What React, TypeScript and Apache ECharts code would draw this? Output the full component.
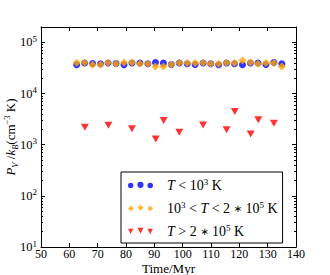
import React, { useEffect, useRef } from "react";
import * as echarts from "echarts";

// Time (Myr) of the sampled snapshots
const xCold = [62.6, 65.4, 68.2, 71.0, 73.7, 76.5, 79.3, 82.1, 84.9, 87.7, 90.4, 93.2, 96.0, 98.8, 101.6, 104.4, 107.2, 109.9, 112.7, 115.5, 118.3, 121.1, 123.9, 126.6, 129.4, 132.2, 135.0];
// T < 1e3 K
const yCold = [36600, 39400, 38800, 38200, 39400, 38800, 36600, 39400, 39400, 38200, 40600, 39400, 37100, 39400, 38200, 37100, 39400, 38200, 36600, 39400, 38200, 36600, 39400, 39400, 37100, 40600, 38200];
// 1e3 < T < 2e5 K
const yWarm = [40000, 40600, 36600, 37100, 40000, 38200, 40600, 40600, 38200, 38200, 33900, 33900, 37100, 40000, 39400, 39400, 40000, 38200, 38200, 40000, 39400, 44500, 40600, 38200, 39400, 39400, 33900];
// T > 2e5 K
const xHot = [65.5, 73.8, 82.1, 90.5, 93.3, 98.8, 107.2, 115.5, 118.4, 124.0, 126.7, 132.2];
const yHot = [2200, 2390, 2060, 1290, 2970, 1760, 2430, 1970, 4480, 1610, 3070, 2640];

const seriesNames = ["T < 10^3 K", "10^3 < T < 2*10^5 K", "T > 2*10^5 K"];
const legendRich = [
  "{i|T} < 10{sup|3} K",
  "10{sup|3} < {i|T} < 2 {ast|∗} 10{sup|5} K",
  "{i|T} > 2 {ast|∗} 10{sup|5} K",
];

const xTicks = [50, 60, 70, 80, 90, 100, 110, 120, 130, 140];
const yMajor = [10, 100, 1000, 10000, 100000];
const yMinor = [20, 30, 40, 50, 60, 70, 80, 90, 200, 300, 400, 500, 600, 700, 800, 900, 2000, 3000, 4000, 5000, 6000, 7000, 8000, 9000, 20000, 30000, 40000, 50000, 60000, 70000, 80000, 90000, 200000];

const FONT = "Liberation Serif";

function circles(): string {
  const c = (cx: number, cy: number, r: number) =>
    `M${cx - r},${cy} A${r},${r} 0 1,0 ${cx + r},${cy} A${r},${r} 0 1,0 ${cx - r},${cy} Z `;
  return "path://" + c(3, 3.2, 2.6) + c(12.5, 2.6, 3) + c(22, 3.3, 2.7);
}
function diamonds(): string {
  const d = (cx: number, cy: number, r: number) =>
    `M${cx},${cy - r} L${cx + r},${cy} L${cx},${cy + r} L${cx - r},${cy} Z `;
  return "path://" + d(3, 3.2, 2.7) + d(12.5, 2.6, 3) + d(22, 3.3, 2.7);
}
function triangles(): string {
  const t = (cx: number, cy: number, r: number) =>
    `M${cx - r},${cy - r} L${cx + r},${cy - r} L${cx},${cy + r} Z `;
  return "path://" + t(3, 3.3, 2.6) + t(12.5, 2.8, 2.9) + t(22, 3.4, 2.7);
}

export default function App() {
  const ref = useRef<HTMLDivElement>(null);
  useEffect(() => {
    if (!ref.current) return;
    const chart = echarts.init(ref.current, null, { renderer: "svg" });
    const axisLine = { show: true, lineStyle: { color: "#000", width: 1 } };
    const yBase = { type: "log" as const, logBase: 10, min: 10, max: 200000, splitLine: { show: false } };
    chart.setOption({
      animation: false,
      backgroundColor: "#fff",
      textStyle: { fontFamily: FONT },
      grid: { left: 41, right: 34, top: 27, bottom: 28, containLabel: false, outerBoundsMode: "none" },
      xAxis: [
        {
          type: "value", position: "bottom", min: 50, max: 140, interval: 10,
          axisLine, splitLine: { show: false },
          axisTick: { inside: true, length: 4, lineStyle: { color: "#000" }, customValues: xTicks },
          axisLabel: { color: "#000", fontSize: 12, lineHeight: 12, fontFamily: FONT, margin: 1, customValues: xTicks },
          name: "Time/Myr", nameLocation: "middle", nameGap: 15, nameMoveOverlap: false,
          nameTextStyle: { color: "#000", fontSize: 13, lineHeight: 13, fontFamily: FONT, fontWeight: "normal" },
        },
        {
          type: "value", position: "top", min: 50, max: 140, interval: 10,
          axisLine, splitLine: { show: false },
          axisTick: { inside: true, length: 4, lineStyle: { color: "#000" }, customValues: xTicks },
          axisLabel: { show: false },
        },
      ],
      yAxis: [
        {
          ...yBase, position: "left", axisLine,
          axisTick: { inside: true, length: 4, lineStyle: { color: "#000" }, customValues: yMajor },
          axisLabel: {
            customValues: yMajor, margin: 4, color: "#000",
            formatter: (v: number) => `{b|10}{s|${Math.round(Math.log10(v))}}`,
            rich: {
              b: { fontSize: 12.5, fontFamily: FONT, color: "#000", lineHeight: 16 },
              s: { fontSize: 9, fontFamily: FONT, color: "#000", lineHeight: 9, verticalAlign: "top" },
            },
          },
          name: "{i|P}{sub|V}{n| /}{i|k}{sub|B}{n|(cm}{sup|−3}{n| K)}",
          nameLocation: "middle", nameGap: 22, nameMoveOverlap: false,
          nameTextStyle: {
            rich: {
              i: { fontSize: 13, fontStyle: "italic", fontFamily: FONT, color: "#000", lineHeight: 17 },
              n: { fontSize: 13, fontFamily: FONT, color: "#000", lineHeight: 17 },
              sub: { fontSize: 8.5, fontStyle: "italic", fontFamily: FONT, color: "#000", lineHeight: 9, verticalAlign: "bottom" },
              sup: { fontSize: 8.5, fontFamily: FONT, color: "#000", lineHeight: 9, verticalAlign: "top" },
            },
          },
        },
        {
          ...yBase, position: "left", axisLine: { show: false },
          axisTick: { inside: true, length: 2, lineStyle: { color: "#000" }, customValues: yMinor },
          axisLabel: { show: false },
        },
        {
          ...yBase, position: "right", axisLine,
          axisTick: { inside: true, length: 4, lineStyle: { color: "#000" }, customValues: yMajor },
          axisLabel: { show: false },
        },
        {
          ...yBase, position: "right", axisLine: { show: false },
          axisTick: { inside: true, length: 2, lineStyle: { color: "#000" }, customValues: yMinor },
          axisLabel: { show: false },
        },
      ],
      legend: {
        orient: "vertical", left: 121, top: 172,
        padding: [5, 5, 4, 7], itemGap: 7, itemWidth: 25, itemHeight: 7,
        backgroundColor: "#fff", borderColor: "#000", borderWidth: 1, borderRadius: 0,
        data: [
          { name: seriesNames[0], icon: circles() },
          { name: seriesNames[1], icon: diamonds() },
          { name: seriesNames[2], icon: triangles() },
        ],
        formatter: (name: string) => legendRich[seriesNames.indexOf(name)],
        textStyle: {
          color: "#000", fontSize: 14, fontFamily: FONT, padding: [0, 0, 0, 9], lineHeight: 16,
          rich: {
            i: { fontSize: 14, fontStyle: "italic", fontFamily: FONT, color: "#000", lineHeight: 16 },
            sup: { fontSize: 9, fontFamily: FONT, color: "#000", lineHeight: 9, verticalAlign: "top" },
            ast: { fontSize: 10, fontFamily: "DejaVu Sans", color: "#000", lineHeight: 16 },
          },
        },
      },
      series: [
        {
          name: seriesNames[0], type: "scatter", symbol: "circle", symbolSize: 7,
          itemStyle: { color: "#0000ff" },
          data: xCold.map((x, i) => [x, yCold[i]]),
        },
        {
          name: seriesNames[1], type: "scatter", symbol: "diamond", symbolSize: 8,
          itemStyle: { color: "#ffa500" },
          data: xCold.map((x, i) => [x, yWarm[i]]),
        },
        {
          name: seriesNames[2], type: "scatter", symbol: "triangle", symbolRotate: 180, symbolSize: [8, 7],
          itemStyle: { color: "#ff0000" },
          data: xHot.map((x, i) => [x, yHot[i]]),
        },
      ],
    });
    return () => chart.dispose();
  }, []);
  return <div ref={ref} style={{ width: 330, height: 275, position: "absolute", left: 0, top: 0 }} />;
}
